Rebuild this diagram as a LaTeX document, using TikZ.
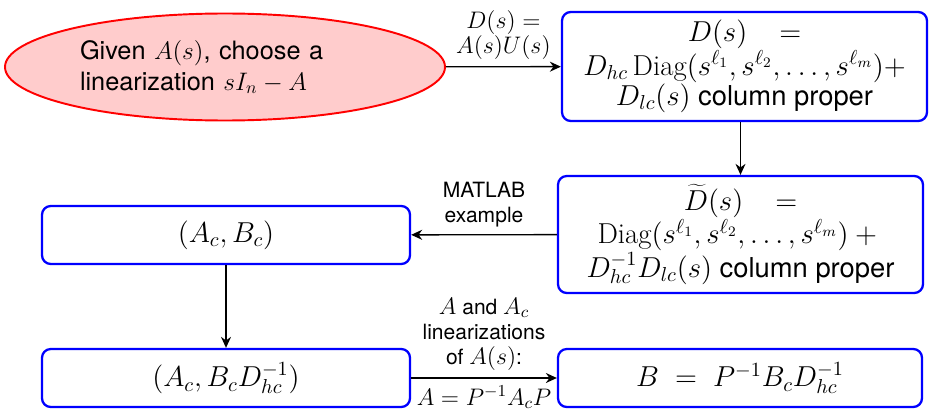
\RequirePackage{fix-cm}
\documentclass[tikz,border=0pt]{standalone}
\usepackage{fontspec}
\setsansfont{TeX Gyre Heros}
\newfontfamily\boxfont[Scale=0.95]{TeX Gyre Heros}
\newfontfamily\labfont[Scale=0.88]{TeX Gyre Heros}
\usetikzlibrary{arrows.meta, positioning, shapes.geometric}
\tikzset{
  every picture/.style={font=\sffamily, line width=0.8pt},
  box/.style={draw=blue, rounded corners=5pt, line width=1.3pt, align=center, inner sep=2pt, font=\boxfont\fontsize{16.4}{17.2}\selectfont},
  start/.style={ellipse, draw=red, fill=red!20, line width=1.1pt, align=left, font=\sffamily\fontsize{14.4}{17.6}\selectfont},
  arrow/.style={-{Stealth[length=2.2mm, width=2mm]}, line width=0.8pt},
  lab/.style={font=\labfont\fontsize{13.6}{14.2}\selectfont, align=center, inner sep=4pt},
}

\begin{document}
\begin{tikzpicture}
  \useasboundingbox (0,0) rectangle (18.6,-8.2);
  % ---------- top row ----------
  \node[start, minimum width=8.8cm, minimum height=2.14cm, text width=5.8cm] (given) at (4.5,-1.34)
    {Given $A(s)$, choose a\\linearization $sI_n - A$};
  \node[box, minimum width=7.3cm, minimum height=2.18cm] (dcp) at (14.89,-1.33)
    {$D(s)\;\;\;=$\\$D_{hc}\,\mathrm{Diag}(s^{\ell_1}, s^{\ell_2}, \ldots, s^{\ell_m}){+}$\\$D_{lc}(s)$ column proper};
  \draw[arrow] (given) -- (dcp) node[lab, midway, above] {$D(s) =$\\$A(s)U(s)$};
  % ---------- middle row ----------
  \node[box, minimum width=7.3cm, minimum height=2.34cm] (dtil) at (14.81,-4.69)
    {$\widetilde{D}(s)\;\;\;=$\\$\mathrm{Diag}(s^{\ell_1}, s^{\ell_2}, \ldots, s^{\ell_m}) +{}$\\$D_{hc}^{-1}D_{lc}(s)$ column proper};
  \draw[arrow] (dcp.south -| dtil.north) -- (dtil.north);
  \node[box, minimum width=7.36cm, minimum height=1.16cm] (abc) at (4.52,-4.70) {$(A_c, B_c)$};
  \draw[arrow] (dtil) -- (abc) node[lab, midway, above] {MATLAB\\example};
  % ---------- bottom row ----------
  \node[box, minimum width=7.36cm, minimum height=1.16cm] (abd) at (4.52,-7.56) {$(A_c, B_c D_{hc}^{-1})$};
  \draw[arrow] (abc) -- (abd);
  \node[box, minimum width=7.28cm, minimum height=1.16cm] (bres) at (14.8,-7.56) {$B \;=\; P^{-1}B_cD_{hc}^{-1}$};
  \draw[arrow] (abd) -- (bres)
    node[lab, midway, above] {$A$ and $A_c$\\linearizations\\of $A(s)$:}
    node[lab, midway, below] {$A = P^{-1}A_cP$};
\end{tikzpicture}
\end{document}
